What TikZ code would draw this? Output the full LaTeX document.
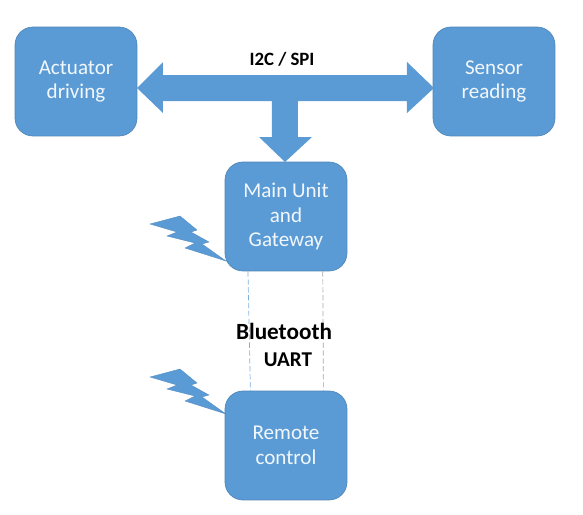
\documentclass[tikz,border=0pt]{standalone}
\usepackage{fontspec}
\setmainfont{Carlito}
\usetikzlibrary{calc}
\definecolor{boxblue}{HTML}{5B9BD5}
\definecolor{boxedge}{HTML}{4F86B8}

\begin{document}
\begin{tikzpicture}[x=.02cm,y=-.02cm,
      unit/.style={draw=boxedge,fill=boxblue,rounded corners=.36cm,minimum width=2.44cm,
        minimum height=2.18cm,inner sep=0pt,align=center,text=white!92!boxblue,
        font=\fontsize{12}{13.9}\selectfont},
      tag/.style={font=\bfseries\fontsize{10.7}{12}\selectfont,text=black,inner sep=0pt},
      bolt/.style={fill=boxblue,draw=boxblue!90!black,line width=.2pt}]
      \useasboundingbox (0,0) rectangle (583,515);

      \node[unit] (act) at (76, 81.5) { Actuator\\driving };
      \node[unit] (sen) at (494, 81.5) { Sensor\\reading };
      \node[unit] (main) at (286, 216.5) { Main Unit\\and\\Gateway };
      \node[unit] (rem) at (286, 445.5) { Remote\\control };

      % bus arrow
      \fill[boxblue] (137,88) -- (163,62) -- (163,75) -- (407,75) -- (407,62) -- (434,88)
        -- (407,113) -- (407,101) -- (298,101) -- (298,137) -- (312,137) -- (285,162)
        -- (259,137) -- (272,137) -- (272,101) -- (163,101) -- (163,113) -- cycle;
      \node[tag] (bus) at (282, 59) { I2C / SPI };

      % radio links
      \foreach \dy in {0, 153}
        \draw[bolt] (150,224+\dy) -- (180,216+\dy) -- (197,230+\dy) -- (191,232+\dy)
          -- (209,242+\dy) -- (202,244+\dy) -- (226,261+\dy) -- (185,248+\dy)
          -- (195,243+\dy) -- (167,236+\dy) -- (177,232+\dy) -- cycle;

      \coordinate (ml) at ($(main.south west)!.19!(main.south east)$);
      \coordinate (mr) at ($(main.south west)!.80!(main.south east)$);
      \coordinate (rl) at ($(rem.north west)!.21!(rem.north east)$);
      \coordinate (rr) at ($(rem.north west)!.805!(rem.north east)$);
      \draw[dashed,boxblue!80!white,dash pattern=on 3pt off 1.5pt] (ml) -- (rl);
      \draw[dashed,gray!70,dash pattern=on 3pt off 1.5pt] (mr) -- (rr);

      \node[tag,font=\bfseries\fontsize{13.2}{15}\selectfont] (bt) at (284, 331) { Bluetooth };
      \node[tag,font=\bfseries\fontsize{12}{14}\selectfont] (uart) at (288, 360) { UART };
      \end{tikzpicture}
\end{document}
